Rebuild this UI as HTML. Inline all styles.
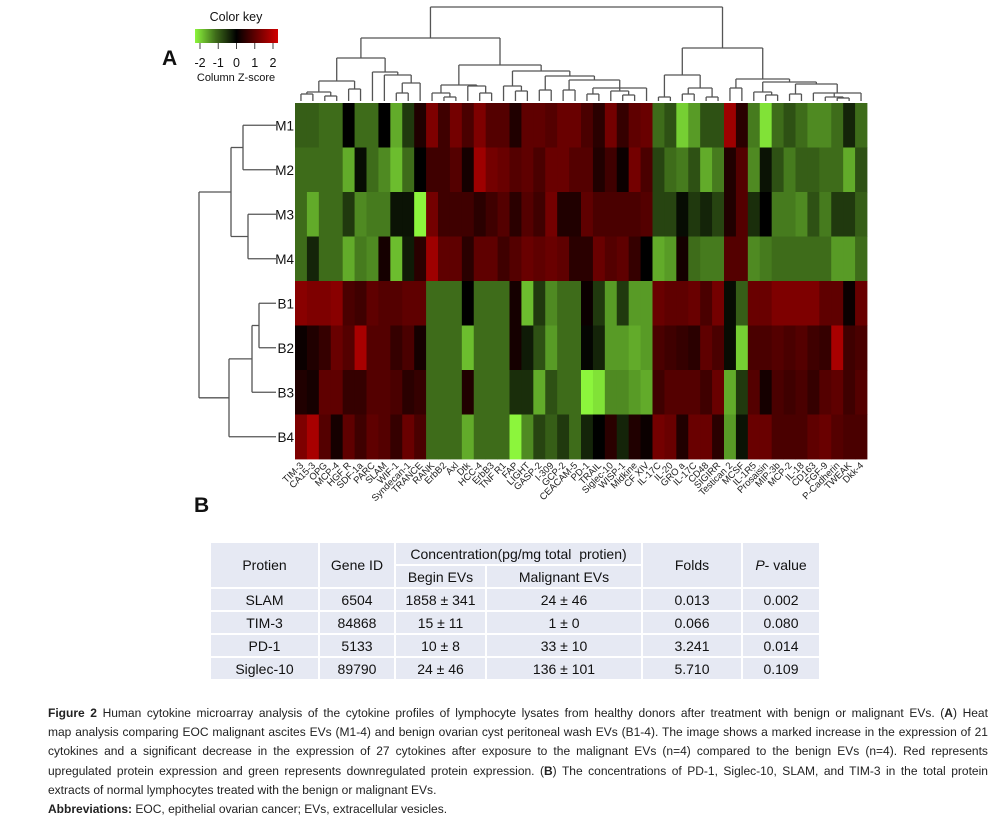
<!DOCTYPE html>
<html><head><meta charset="utf-8">
<style>
body{margin:0;background:#fff;width:998px;height:816px;position:relative;overflow:hidden;font-family:"Liberation Sans",sans-serif;}
svg{position:absolute;left:0;top:0}
#tbl{position:absolute;left:209px;top:541px;border-collapse:separate;border-spacing:2px 2px;font-size:14px;color:#111;}
#tbl td{background:#e6e9f3;text-align:center;padding:0;height:21px}
#cap{position:absolute;left:48px;top:704px;width:970px;transform:scaleX(0.969);transform-origin:0 0;font-family:"Liberation Sans Narrow","Liberation Sans",sans-serif;font-size:12.4px;line-height:19.2px;color:#222;}
#cap div{text-align:justify;text-align-last:justify;white-space:nowrap}
#cap div.l{text-align-last:left}
</style></head><body>
<svg id="fig" width="998" height="816"></svg>

<table id="tbl">
<tr><td rowspan="2" style="width:107px">Protien</td><td rowspan="2" style="width:74px">Gene ID</td><td colspan="2">Concentration(pg/mg total&nbsp; protien)</td><td rowspan="2" style="width:98px">Folds</td><td rowspan="2" style="width:76px"><i>P</i>- value</td></tr>
<tr><td style="width:89px">Begin EVs</td><td style="width:154px">Malignant EVs</td></tr>
<tr><td>SLAM</td><td>6504</td><td>1858 ± 341</td><td>24 ± 46</td><td>0.013</td><td>0.002</td></tr>
<tr><td>TIM-3</td><td>84868</td><td>15 ± 11</td><td>1 ± 0</td><td>0.066</td><td>0.080</td></tr>
<tr><td>PD-1</td><td>5133</td><td>10 ± 8</td><td>33 ± 10</td><td>3.241</td><td>0.014</td></tr>
<tr><td>Siglec-10</td><td>89790</td><td>24 ± 46</td><td>136 ± 101</td><td>5.710</td><td>0.109</td></tr>
</table>

<div id="cap">
<div><b>Figure 2</b> Human cytokine microarray analysis of the cytokine profiles of lymphocyte lysates from healthy donors after treatment with benign or malignant EVs. (<b>A</b>) Heat</div>
<div>map analysis comparing EOC malignant ascites EVs (M1-4) and benign ovarian cyst peritoneal wash EVs (B1-4). The image shows a marked increase in the expression of 21</div>
<div>cytokines and a significant decrease in the expression of 27 cytokines after exposure to the malignant EVs (n=4) compared to the benign EVs (n=4). Red represents</div>
<div>upregulated protein expression and green represents downregulated protein expression. (<b>B</b>) The concentrations of PD-1, Siglec-10, SLAM, and TIM-3 in the total protein</div>
<div class="l">extracts of normal lymphocytes treated with the benign or malignant EVs.</div>
<div class="l"><b>Abbreviations:</b> EOC, epithelial ovarian cancer; EVs, extracellular vesicles.</div>
</div>

<script>
const rowNames=["M1","M2","M3","M4","B1","B2","B3","B4"];
const colNames=["TIM-3","CA15-3","OPG","MCP-4","HGF R","SDF-1a","PARC","SLAM","WIF-1","Syndecan-1","TRANCE","RANK","ErbB2","Axl","Dtk","HCC-4","ErbB3","TNF R1","FAP","LIGHT","GASP-2","I-309","GCP-2","CEACAM-5","PD-1","TRAIL","Siglec-10","WISP-1","Midkine","CF XIV","IL-17C","IL-20","GRO a","IL-17C","CD48","SIGIRR","Testican 2","MCSF","IL-1R5","Prosaisin","MIP-3b","MCP-2","IL-18","CD163","FGF-9","P-Cadherin","TWEAK","Dkk-4"];
const rowM1=[-1.1,-1.1,-1.2,-1.2,0,-1.2,-1.2,0,-1.6,-0.8,0.3,1.2,0.6,1.1,0.7,1.2,0.8,0.8,0.3,0.9,0.9,0.8,1.0,1.0,0.7,0.4,1.1,0.5,0.9,1.0,-1.2,-1.0,-1.8,-1.5,-1.0,-1.0,1.5,0.4,-1.3,-1.9,-1.2,-1.0,-1.2,-1.4,-1.4,-1.2,-0.6,-1.2];
const rowM2=[-1.2,-1.2,-1.2,-1.2,-1.6,-0.3,-1.2,-1.4,-1.7,-1.2,0,0.6,0.6,0.8,0.2,1.5,1.1,1.0,0.8,0.9,0.7,1.0,1.0,0.8,0.8,0.3,0.6,0.1,1.1,0.7,-0.9,-1.2,-1.3,-1.0,-1.6,-1.3,0.3,0.8,-1.4,-0.4,-1.0,-1.3,-1.1,-1.1,-1.2,-1.2,-1.6,-1.0];
const rowM3=[-1.2,-1.6,-1.2,-1.2,-0.8,-1.4,-1.3,-1.3,-0.4,-0.4,-2,1.1,0.6,0.6,0.6,0.4,0.6,0.8,0.4,0.8,0.6,1.1,0.3,0.3,0.9,0.7,0.7,0.7,0.7,0.8,-0.9,-0.9,-0.3,-0.8,-0.6,-0.9,0.3,0.8,-0.7,0,-1.3,-1.3,-1.4,-1.0,-1.3,-0.8,-0.8,-1.1];
const rowM4=[-1.2,-0.6,-1.2,-1.2,-1.6,-1.3,-1.4,0.2,-1.7,-0.5,0.4,1.5,0.9,0.9,0.4,0.9,0.9,0.6,0.8,1.0,0.9,1.0,0.9,0.4,0.4,1.0,0.8,0.9,0.5,0,-1.6,-1.5,0.2,-1.2,-1.3,-1.3,0.8,0.8,-1.4,-1.3,-1.2,-1.2,-1.2,-1.2,-1.2,-1.5,-1.5,-1.2];
const rowB1=[1.3,1.2,1.2,1.3,0.7,0.6,0.9,0.8,0.8,0.9,0.9,-1.2,-1.2,-1.2,0,-1.2,-1.2,-1.2,0.2,-1.7,-0.8,-1.4,-1.2,-1.2,0.1,-0.8,-1.5,-0.8,-1.5,-1.5,1.0,0.9,0.9,1.0,0.7,1.1,-0.3,-1.1,1.0,1.0,1.2,1.2,1.2,1.2,0.9,0.9,0.1,1.0];
const rowB2=[0.1,0.3,0.5,1.0,0.8,1.6,0.8,0.8,0.5,0.7,0.2,-1.2,-1.2,-1.2,-1.7,-1.2,-1.2,-1.2,0.2,-0.5,-1.0,-1.5,-1.2,-1.2,-0.2,-0.6,-1.5,-1.5,-1.6,-1.5,0.7,0.6,0.5,0.4,0.9,0.7,-0.3,-1.8,0.7,0.7,0.8,0.7,0.8,0.6,0.5,1.6,0.6,0.7];
const rowB3=[0.3,0.2,0.9,0.9,0.5,0.5,0.8,0.8,0.7,0.4,0.5,-1.2,-1.2,-1.2,0.3,-1.2,-1.2,-1.2,-0.7,-0.7,-1.6,-1.0,-1.2,-1.2,-2,-1.9,-1.4,-1.4,-1.5,-1.6,0.6,0.8,0.8,0.8,0.6,1.0,-1.6,-0.8,0.8,0.2,0.7,0.6,0.7,0.5,0.8,0.9,0.6,0.8];
const rowB4=[1.2,1.6,0.8,0.2,0.9,0.6,0.9,0.8,0.5,1.0,0.7,-1.2,-1.2,-1.2,-1.6,-1.2,-1.2,-1.2,-2.0,-1.4,-0.9,-1.1,-0.8,-1.2,-0.6,0,0.4,-0.6,0.3,0.1,1.1,1.0,0.3,1.0,1.0,0.4,-1.5,-0.4,1.0,1.0,0.7,0.7,0.7,0.9,1.0,0.8,0.7,0.7];
const keyTicks=[-2,-1,0,1,2];

const NS="http://www.w3.org/2000/svg";
const svg=document.getElementById('fig');
function mk(t,a,p){const e=document.createElementNS(NS,t);for(const k in a)e.setAttribute(k,a[k]);(p||svg).appendChild(e);return e;}
function color(z){z=Math.max(-2,Math.min(2,z));
 if(z<0){const t=Math.pow(-z/2,1.6);return `rgb(${Math.round(140*t)},${Math.round(245*t)},${Math.round(60*t)})`;}
 const t=z/2;return `rgb(${Math.round(210*t)},0,0)`;}

const HX=295,HY=103,HW=572,HH=356;
const cw=HW/colNames.length, rh=HH/rowNames.length;
const xC=i=>HX+cw*(i+0.5), yR=j=>HY+rh*(j+0.5);
const rows=[rowM1,rowM2,rowM3,rowM4,rowB1,rowB2,rowB3,rowB4];

const gH=mk('g',{});


rows.forEach((r,j)=>r.forEach((v,i)=>{
 const c=mk('rect',{x:(HX+cw*i).toFixed(2),y:(HY+rh*j).toFixed(2),width:(cw+0.4).toFixed(2),height:(rh+0.4).toFixed(2),fill:color(v)},gH);
 
 
}));

rowNames.forEach((n,j)=>{
 const t=mk('text',{x:294,y:yR(j)+5,'text-anchor':'end','font-size':13.5,fill:'#111'});t.textContent=n;
 
 
});
colNames.forEach((n,i)=>{
 const x=xC(i)+3,y=466;
 const t=mk('text',{x:x,y:y,'text-anchor':'end','font-size':9.5,fill:'#222',transform:`rotate(-45 ${x} ${y})`});t.textContent=n;
 
 
});

const gD=mk('g',{stroke:'#555','stroke-width':1.3,fill:'none'});


function N(h,...c){return{h,c};}
const tree=N(7,
 N(38,
  N(58,
   N(81,N(92,N(94,0,1),N(96,2,3)),N(89,4,5)),
   N(72,6,N(75,7,N(83,N(93,8,9),10)))),
  N(65,
   N(85,N(93,11,N(97,12,13)),N(86,14,N(93,15,16))),
   N(71,N(86,17,N(91,18,19)),N(76,N(90,20,21),N(80,N(90,22,23),N(88,N(94,24,25),N(91,26,N(95,27,28)),29)))))),
 N(48,
  N(75,N(97,30,31),N(88,N(94,32,33),N(97,34,35))),
  N(79,N(88,36,37),N(82,N(92,38,N(95,39,40)),N(84,N(94,41,42),N(93,43,N(97,44,N(98,45,46)),47))))));
function draw(n){
 if(typeof n==='number')return{x:xC(n),y:101};
 const ps=n.c.map(draw);
 ps.forEach(p=>mk('line',{x1:p.x,y1:p.y,x2:p.x,y2:n.h},gD));
 mk('line',{x1:ps[0].x,y1:n.h,x2:ps[ps.length-1].x,y2:n.h},gD);
 return{x:(ps[0].x+ps[ps.length-1].x)/2,y:n.h};
}
draw(tree);

const gR=mk('g',{stroke:'#555','stroke-width':1.3,fill:'none'});


function RN(x,...c){return{x,c};}
const rtree=RN(199,RN(231,RN(243,0,1),RN(248,2,3)),RN(229,RN(252,RN(259,4,5),6),7));
function drawR(n){
 if(typeof n==='number')return{x:276,y:yR(n)};
 const ps=n.c.map(drawR);
 ps.forEach(p=>mk('line',{x1:n.x,y1:p.y,x2:p.x,y2:p.y},gR));
 mk('line',{x1:n.x,y1:ps[0].y,x2:n.x,y2:ps[ps.length-1].y},gR);
 return{x:n.x,y:(ps[0].y+ps[ps.length-1].y)/2};
}
drawR(rtree);

const defs=mk('defs',{});
const lg=mk('linearGradient',{id:'kg',x1:0,x2:1,y1:0,y2:0},defs);
[[0,'#8cf53c'],[0.25,'#3e6b1a'],[0.5,'#000'],[0.75,'#6a0000'],[1,'#d20000']].forEach(s=>mk('stop',{offset:s[0],'stop-color':s[1]},lg));
const kx=195,kw=83;
const key=mk('g',{});


const kt=mk('text',{x:236,y:21,'text-anchor':'middle','font-size':12.5,fill:'#111'},key);kt.textContent='Color key';
mk('rect',{x:kx,y:29,width:kw,height:14,fill:'url(#kg)'},key);
const kxs=v=>kx+5+(v+2)/4*(kw-10);
keyTicks.forEach(v=>{
 mk('line',{x1:kxs(v),y1:43,x2:kxs(v),y2:49,stroke:'#444','stroke-width':1},key);
 const t=mk('text',{x:kxs(v),y:67,'text-anchor':'middle','font-size':12.5,fill:'#111'},key);t.textContent=String(v);
});
const kl=mk('text',{x:236,y:81,'text-anchor':'middle','font-size':11,fill:'#111'},key);kl.textContent='Column Z-score';

const A=mk('text',{x:162,y:65,'font-size':21,'font-weight':'bold',fill:'#111'});A.textContent='A';


const B=mk('text',{x:194,y:512,'font-size':21,'font-weight':'bold',fill:'#111'});B.textContent='B';


</script>
</body></html>
